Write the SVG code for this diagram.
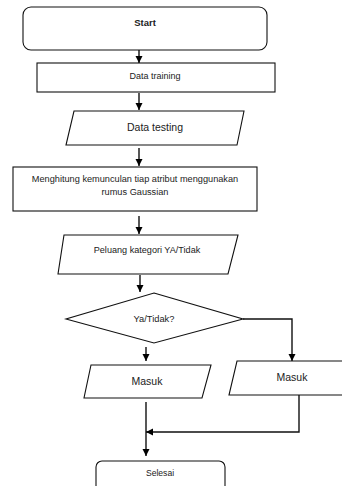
<svg xmlns="http://www.w3.org/2000/svg" width="342" height="486" viewBox="0 0 342 486">
<defs>
<marker id="ah" markerUnits="userSpaceOnUse" markerWidth="8" markerHeight="8" refX="7" refY="4" orient="auto"><path d="M0,0.5 L7,4 L0,7.5 Z" fill="#000"/></marker>
<style>
.s{fill:#fff;stroke:#111;stroke-width:1.1}
.t{font-family:"Liberation Sans",Arial,sans-serif;fill:#222;text-anchor:middle}
.c{fill:none;stroke:#111;stroke-width:1.4;marker-end:url(#ah)}
</style>
</defs>
<rect width="342" height="486" fill="#fff"/>
<g id="start"><rect class="s" x="23" y="7" width="244" height="43" rx="8"/><text class="t" x="145" y="26" font-size="9.5" font-weight="bold">Start</text></g>
<g id="training"><rect class="s" x="37" y="63" width="238" height="29"/><text class="t" x="155" y="79" font-size="9">Data training</text></g>
<g id="testing"><polygon class="s" points="74,111 244,111 237,145 66,145"/><text class="t" x="155" y="131" font-size="10.5">Data testing</text></g>
<g id="hitung"><rect class="s" x="13" y="167" width="244" height="44"/><text class="t" x="135" y="182" font-size="9.2">Menghitung kemunculan tiap atribut menggunakan</text><text class="t" x="135" y="195" font-size="9.2">rumus Gaussian</text></g>
<g id="peluang"><polygon class="s" points="64,235 238,235 228,274 58,274"/><text class="t" x="147" y="253" font-size="9.1">Peluang kategori YA/Tidak</text></g>
<g id="decision"><polygon class="s" points="154,293 243,319 154,343 66,319"/><text class="t" x="154" y="322" font-size="9.3">Ya/Tidak?</text></g>
<g id="masuk1"><polygon class="s" points="91,365 211,365 202,398 84,398"/><text class="t" x="147" y="385" font-size="10.5">Masuk</text></g>
<g id="masuk2"><polygon class="s" points="237,361 352,361 345,395 229,395"/><text class="t" x="292" y="381" font-size="10.5">Masuk</text></g>
<g id="selesai"><rect class="s" x="96" y="461" width="129" height="40" rx="6"/><text class="t" x="160" y="476" font-size="8.6">Selesai</text></g>
<g id="connectors">
<line class="c" x1="139" y1="50" x2="139" y2="63"/>
<line class="c" x1="139" y1="93" x2="139" y2="110"/>
<line class="c" x1="139" y1="148" x2="139" y2="166"/>
<line class="c" x1="139" y1="216" x2="139" y2="234"/>
<line class="c" x1="140" y1="275" x2="140" y2="292"/>
<line class="c" x1="146" y1="347" x2="146" y2="361"/>
<polyline class="c" points="243,319 292,319 292,361"/>
<line class="c" x1="146" y1="402" x2="146" y2="456"/>
<polyline class="c" points="299,395 299,432 146,432"/>
</g>
</svg>
